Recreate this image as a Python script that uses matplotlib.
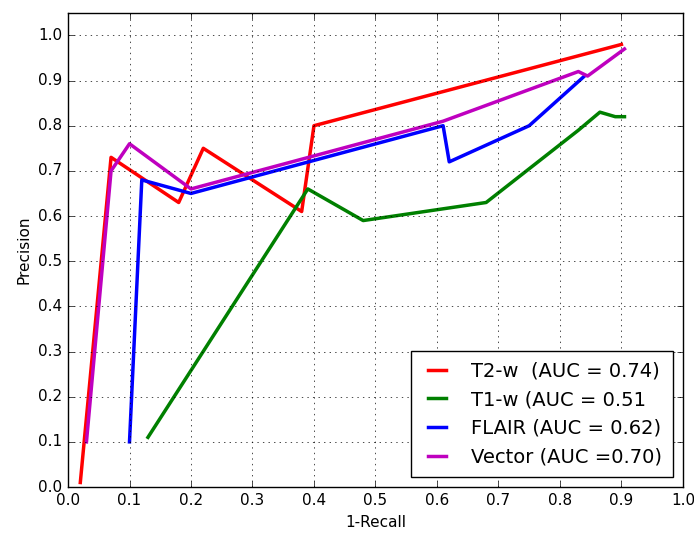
import matplotlib
matplotlib.use("Agg")
import matplotlib.pyplot as plt
import numpy as np

plt.style.use("classic")

# curves (x = 1-Recall, y = Precision)
t2_x = [0.02, 0.07, 0.18, 0.22, 0.38, 0.40, 0.90]
t2_y = [0.01, 0.73, 0.63, 0.75, 0.61, 0.80, 0.98]

t1_x = [0.13, 0.39, 0.48, 0.68, 0.83, 0.865, 0.89, 0.905]
t1_y = [0.11, 0.66, 0.59, 0.63, 0.79, 0.83, 0.82, 0.82]

flair_x = [0.10, 0.12, 0.20, 0.61, 0.62, 0.75, 0.84]
flair_y = [0.10, 0.68, 0.65, 0.80, 0.72, 0.80, 0.91]

vector_x = [0.03, 0.07, 0.10, 0.20, 0.61, 0.83, 0.845, 0.905]
vector_y = [0.10, 0.70, 0.76, 0.66, 0.81, 0.92, 0.91, 0.97]

labels = ["T2-w  (AUC = 0.74)", "T1-w (AUC = 0.51", "FLAIR (AUC = 0.62)", "Vector (AUC =0.70)"]
ticks = np.arange(0, 1.01, 0.1)

fig = plt.figure(figsize=(6.94, 5.34), dpi=100, facecolor="white")
ax = fig.add_axes([0.098, 0.088, 0.886, 0.888])

ax.plot(t2_x, t2_y, color="r", linewidth=2.5, label=labels[0])
ax.plot(t1_x, t1_y, color="g", linewidth=2.5, label=labels[1])
ax.plot(flair_x, flair_y, color="b", linewidth=2.5, label=labels[2])
ax.plot(vector_x, vector_y, color="m", linewidth=2.5, label=labels[3])

ax.set_xlim(0, 1.0)
ax.set_ylim(0, 1.05)
ax.set_xticks(ticks)
ax.set_yticks(ticks)
ax.set_xticklabels(["%.1f" % t for t in ticks])
ax.set_yticklabels(["%.1f" % t for t in ticks])
ax.tick_params(labelsize=11)
ax.set_xlabel("1-Recall", fontsize=11)
ax.set_ylabel("Precision", fontsize=11)
ax.grid(True)

ax.legend(loc="lower right", fontsize=14, handlelength=1.55, handletextpad=1.0,
          borderpad=0.55, labelspacing=0.5, borderaxespad=0.5, fancybox=False)

fig.savefig("out.png", dpi=100, facecolor="white")
